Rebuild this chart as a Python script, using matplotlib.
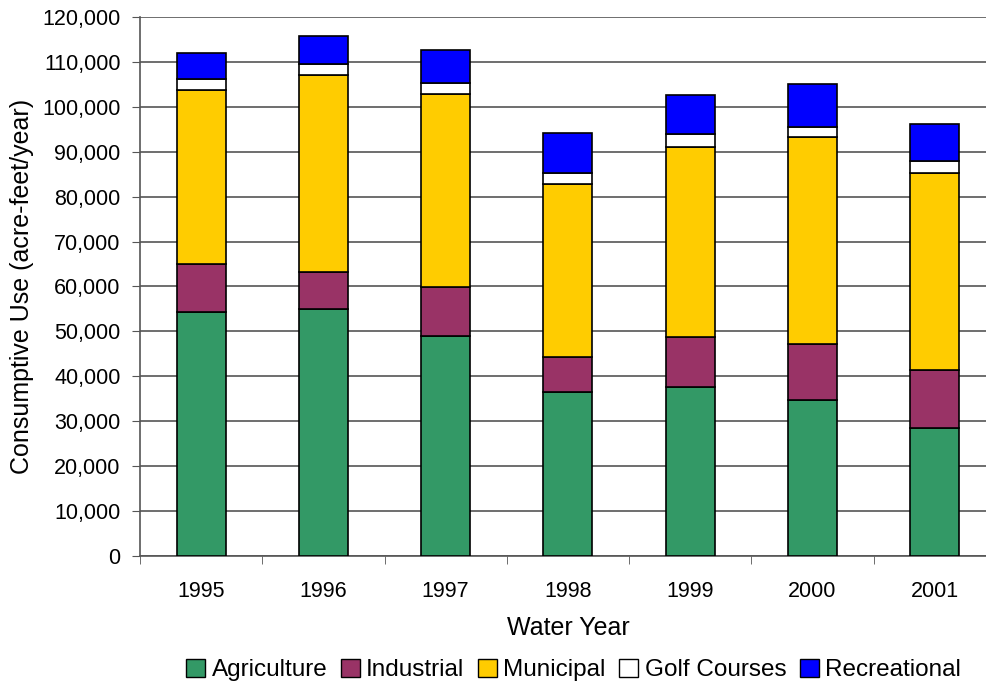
import numpy as np
import matplotlib.pyplot as plt
from matplotlib.ticker import FuncFormatter
from matplotlib.patches import Patch

plt.rcParams['font.family'] = ['Liberation Sans', 'DejaVu Sans']

years = ['1995', '1996', '1997', '1998', '1999', '2000', '2001']
agriculture = [54300, 54900, 48900, 36400, 37600, 34700, 28400]
industrial = [10700, 8400, 10900, 8000, 11100, 12600, 12900]
municipal = [38700, 43700, 43000, 38500, 42300, 45900, 44000]
golf = [2600, 2600, 2500, 2400, 3000, 2400, 2600]
recreational = [5700, 6200, 7300, 8800, 8700, 9400, 8200]

names = ['Agriculture', 'Industrial', 'Municipal', 'Golf Courses', 'Recreational']
colors = ['#339966', '#993366', '#FFCC00', '#FFFFFF', '#0000FF']
series = [agriculture, industrial, municipal, golf, recreational]

fig = plt.figure(figsize=(9.87, 6.88), dpi=100)
ax = fig.add_axes([0.1419, 0.1919, 0.867, 0.7834])

x = np.arange(len(years))
bottom = np.zeros(len(years))
for vals, c in zip(series, colors):
    ax.bar(x, vals, width=0.4, bottom=bottom, color=c, edgecolor='black',
           linewidth=1.2, zorder=3)
    bottom += np.array(vals)

ax.set_xlim(-0.5, len(years) - 0.5)
ax.set_ylim(0, 120000)
ax.set_yticks(np.arange(0, 120001, 10000))
ax.yaxis.set_major_formatter(FuncFormatter(lambda v, p: f'{int(v):,}'))
ax.set_xticks(x)
ax.set_xticklabels(years)
ax.set_xticks(np.arange(-0.5, len(years), 1), minor=True)
ax.tick_params(axis='x', which='major', length=0, labelsize=15.5, pad=18)
ax.tick_params(axis='x', which='minor', length=6, direction='out', color='#555555')
ax.tick_params(axis='y', length=6, direction='out', labelsize=15.5, color='#555555', pad=8)

ax.grid(axis='y', color='#555555', linewidth=1.2, zorder=0)
for s in ['top', 'right']:
    ax.spines[s].set_visible(False)
ax.spines['left'].set_color('#555555')
ax.spines['bottom'].set_color('#555555')
ax.spines['left'].set_linewidth(1.2)
ax.spines['bottom'].set_linewidth(1.2)

ax.set_ylabel('Consumptive Use (acre-feet/year)', fontsize=18, labelpad=6)
ax.set_xlabel('Water Year', fontsize=18, labelpad=10)

handles = [Patch(facecolor=c, edgecolor='black', label=n) for n, c in zip(names, colors)]
fig.legend(handles=handles, loc='center', bbox_to_anchor=(0.581, 0.026), ncol=5,
           frameon=False, fontsize=17.5, handlelength=0.8, handleheight=0.8,
           handletextpad=0.25, columnspacing=0.55, borderaxespad=0)

plt.savefig('out.png', dpi=100)
